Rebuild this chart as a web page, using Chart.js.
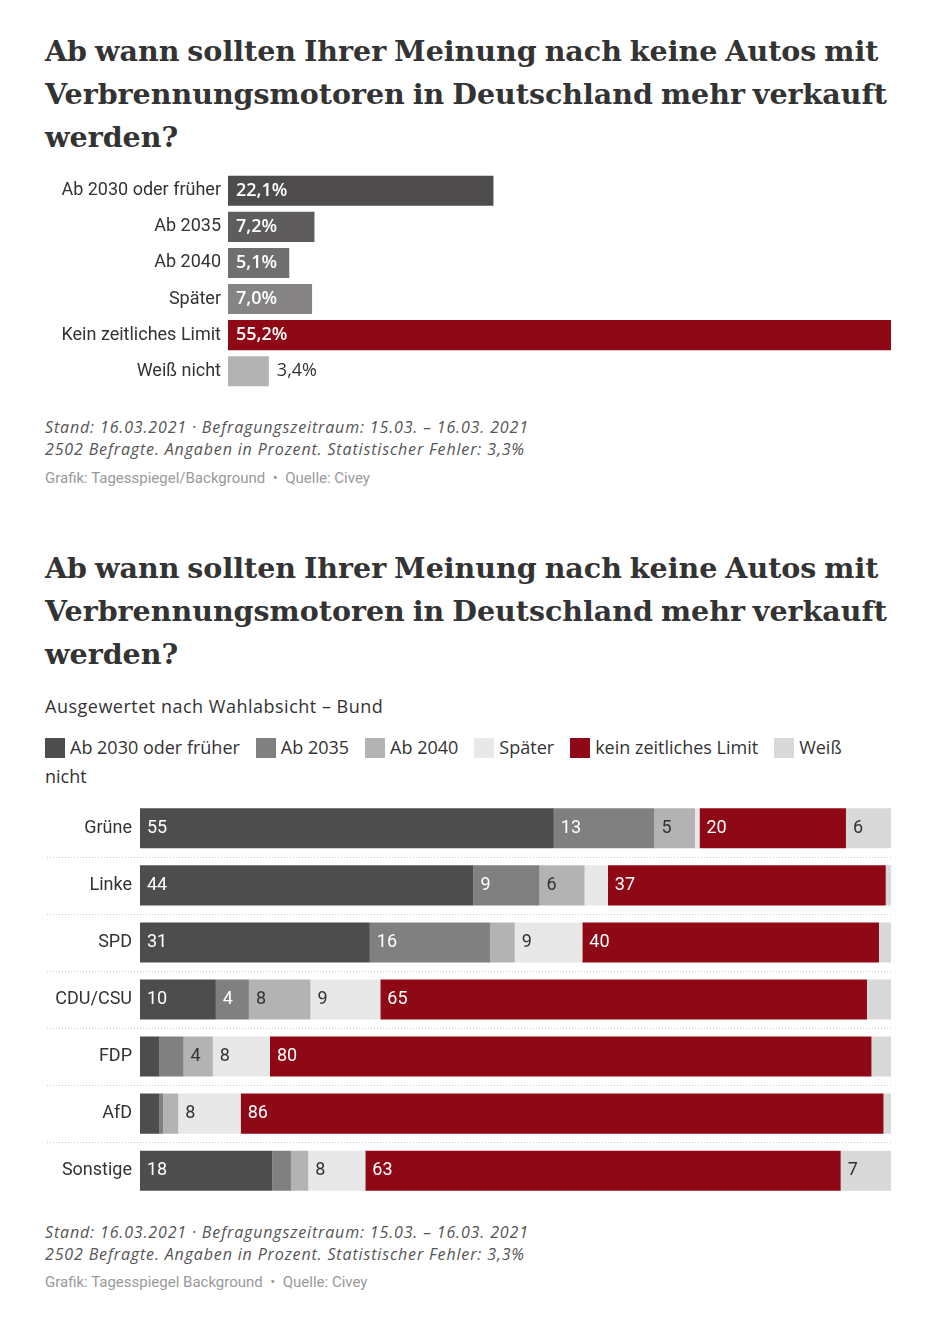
<!DOCTYPE html>
<html lang="de">
<head>
<meta charset="utf-8">
<script src="https://cdn.jsdelivr.net/npm/chart.js@4.4.1/dist/chart.umd.min.js"></script>
<style>
  body { margin: 0; background: #fff; font-family: Roboto, "Liberation Sans", sans-serif; color: #333; }
  #page { position: relative; width: 936px; height: 1327px; overflow: hidden; }
  .abs { position: absolute; left: 45px; }
  h1 { margin: 0; font-family: "DejaVu Serif", serif; font-weight: bold; font-size: 28.5px; word-spacing: -2px; line-height: 43px; color: #333; white-space: nowrap; }
  .note { font-family: "Open Sans", sans-serif; font-style: italic; font-size: 16px; letter-spacing: 0.85px; line-height: 22px; color: #555; }
  .src { font-size: 15px; line-height: 22px; color: #999; }
  .sub { font-family: "Open Sans", sans-serif; font-size: 18px; letter-spacing: 0.5px; line-height: 22px; color: #333; }
  #legend2 { width: 820px; font-family: "Open Sans", sans-serif; font-size: 18px; line-height: 29px; color: #333; }
  .sw { display: inline-block; width: 20px; height: 20px; vertical-align: -4px; margin-right: 5px; }
  .sw.next { margin-left: 16px; }
  .box { position: absolute; left: 45px; width: 846px; }
</style>
</head>
<body>
<div id="page">
  <h1 class="abs" style="top:30px">Ab wann sollten Ihrer Meinung nach keine Autos mit<br>Verbrennungsmotoren in Deutschland mehr verkauft<br>werden?</h1>
  <div class="box" style="top:162px;height:238px"><canvas id="chart1"></canvas></div>
  <div class="abs note" style="top:416px">Stand: 16.03.2021 · Befragungszeitraum: 15.03. – 16.03. 2021<br>2502 Befragte. Angaben in Prozent. Statistischer Fehler: 3,3%</div>
  <div class="abs src" style="top:467px">Grafik: Tagesspiegel/Background &nbsp;•&nbsp; Quelle: Civey</div>

  <h1 class="abs" style="top:547px">Ab wann sollten Ihrer Meinung nach keine Autos mit<br>Verbrennungsmotoren in Deutschland mehr verkauft<br>werden?</h1>
  <div class="abs sub" style="top:695px">Ausgewertet nach Wahlabsicht – Bund</div>
  <div class="abs" id="legend2" style="top:733px"></div>
  <div class="box" style="top:789px;height:421px"><canvas id="chart2"></canvas></div>
  <div class="abs note" style="top:1221px">Stand: 16.03.2021 · Befragungszeitraum: 15.03. – 16.03. 2021<br>2502 Befragte. Angaben in Prozent. Statistischer Fehler: 3,3%</div>
  <div class="abs src" style="top:1271px">Grafik: Tagesspiegel Background &nbsp;•&nbsp; Quelle: Civey</div>
</div>
<script>
// chart 1: overall answers
const answerLabels = ["Ab 2030 oder früher", "Ab 2035", "Ab 2040", "Später", "Kein zeitliches Limit", "Weiß nicht"];
const answerValues = [22.1, 7.2, 5.1, 7.0, 55.2, 3.4];
const answerColors = ["#4f4c4d", "#5e5c5d", "#706f70", "#858384", "#8e0816", "#b3b3b3"];

// chart 2: by party
const parties = ["Grüne", "Linke", "SPD", "CDU/CSU", "FDP", "AfD", "Sonstige"];
const seriesNames = ["Ab 2030 oder früher", "Ab 2035", "Ab 2040", "Später", "kein zeitliches Limit", "Weiß nicht"];
const ab2030 = [55.1, 44.4, 30.6, 10.1, 2.6, 2.6, 17.6];
const ab2035 = [13.4, 8.8, 16.0, 4.4, 3.2, 0.5, 2.5];
const ab2040 = [5.4, 6.0, 3.3, 8.2, 3.9, 2.0, 2.3];
const spaeter = [0.6, 3.1, 9.0, 9.3, 7.6, 8.3, 7.6];
const keinLimit = [19.5, 37.0, 39.5, 64.8, 80.1, 85.6, 63.3];
const weissNicht = [6.0, 0.7, 1.6, 3.2, 2.6, 1.0, 6.7];
const seriesColors = ["#4d4d4d", "#808080", "#b3b3b3", "#e8e8e8", "#8e0816", "#d9d9d9"];
const labelColors = ["#fff", "#fff", "#333", "#333", "#fff", "#333"];

const FONT = "Roboto, 'Liberation Sans', sans-serif";

const valueLabels1 = {
  id: "valueLabels1",
  afterDatasetsDraw(chart) {
    const ctx = chart.ctx;
    ctx.save();
    ctx.textBaseline = "middle";
    ctx.textAlign = "left";
    chart.getDatasetMeta(0).data.forEach((bar, i) => {
      const txt = answerValues[i].toFixed(1).replace(".", ",") + "%";
      ctx.font = "600 18px 'Open Sans', sans-serif";
      const w = ctx.measureText(txt).width;
      if (bar.x - bar.base > w + 16) {
        ctx.fillStyle = "#fff";
        ctx.fillText(txt, bar.base + 8, bar.y);
      } else {
        ctx.font = "18px 'Open Sans', sans-serif";
        ctx.fillStyle = "#333";
        ctx.fillText(txt, bar.x + 8, bar.y);
      }
    });
    ctx.restore();
  }
};

new Chart(document.getElementById("chart1"), {
  type: "bar",
  data: {
    labels: answerLabels,
    datasets: [{ data: answerValues, backgroundColor: answerColors, categoryPercentage: 30 / 36, barPercentage: 1 }]
  },
  options: {
    indexAxis: "y",
    responsive: true,
    maintainAspectRatio: false,
    animation: false,
    layout: { padding: 0 },
    plugins: { legend: { display: false }, tooltip: { enabled: false } },
    scales: {
      x: { display: false, min: 0, max: Math.max(...answerValues) },
      y: {
        grid: { display: false, tickLength: 7 }, border: { display: false },
        ticks: { color: "#333", padding: 0, font: { size: 18, family: FONT } },
        afterFit(s) { s.width = 183; }
      }
    }
  },
  plugins: [valueLabels1]
});

document.getElementById("legend2").innerHTML = seriesNames
  .map((n, i) => `<span class="sw${i ? " next" : ""}" style="background:${seriesColors[i]}"></span>${n}`)
  .join("");

const rowLines = {
  id: "rowLines",
  beforeDatasetsDraw(chart) {
    const y = chart.scales.y, ctx = chart.ctx;
    ctx.save();
    ctx.strokeStyle = "#c8c8c8";
    ctx.lineWidth = 1;
    ctx.setLineDash([1, 2]);
    for (let i = 0; i < parties.length - 1; i++) {
      const py = Math.round((y.getPixelForValue(i) + y.getPixelForValue(i + 1)) / 2) + 0.5;
      ctx.beginPath();
      ctx.moveTo(y.left + 2, py);
      ctx.lineTo(chart.chartArea.right, py);
      ctx.stroke();
    }
    ctx.restore();
  }
};

const valueLabels2 = {
  id: "valueLabels2",
  afterDatasetsDraw(chart) {
    const ctx = chart.ctx;
    ctx.save();
    ctx.font = "18px " + FONT;
    ctx.textBaseline = "middle";
    ctx.textAlign = "left";
    chart.data.datasets.forEach((ds, di) => {
      chart.getDatasetMeta(di).data.forEach((bar, i) => {
        const v = ds.data[i];
        if (v < 3.5) return;
        ctx.fillStyle = labelColors[di];
        ctx.fillText(String(Math.round(v)), Math.min(bar.x, bar.base) + 7, bar.y);
      });
    });
    ctx.restore();
  }
};

const series = [ab2030, ab2035, ab2040, spaeter, keinLimit, weissNicht];
new Chart(document.getElementById("chart2"), {
  type: "bar",
  data: {
    labels: parties,
    datasets: series.map((d, i) => ({
      label: seriesNames[i], data: d, backgroundColor: seriesColors[i],
      categoryPercentage: 40 / 57, barPercentage: 1
    }))
  },
  options: {
    indexAxis: "y",
    responsive: true,
    maintainAspectRatio: false,
    animation: false,
    layout: { padding: 0 },
    plugins: { legend: { display: false }, tooltip: { enabled: false } },
    scales: {
      x: { display: false, stacked: true, min: 0, max: 100 },
      y: {
        stacked: true,
        grid: { display: false, tickLength: 8 }, border: { display: false },
        ticks: { color: "#333", padding: 0, font: { size: 18, family: FONT } },
        afterFit(s) { s.width = 95; }
      }
    }
  },
  plugins: [rowLines, valueLabels2]
});
</script>
</body>
</html>
